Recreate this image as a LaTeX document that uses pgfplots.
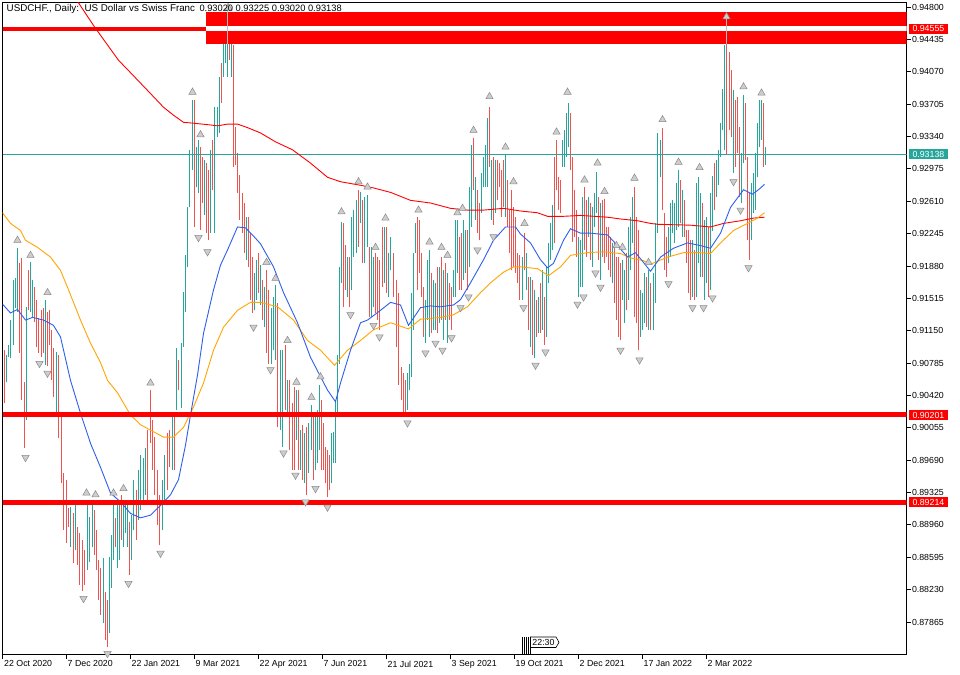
\documentclass[border=0pt]{standalone}
\usepackage{pgfplots}
\usepackage{pgfplotstable}
\pgfplotsset{compat=1.18}
\usepackage{fontspec}
\setmainfont{Liberation Sans}
\definecolor{upc}{RGB}{38,166,154}
\definecolor{dnc}{RGB}{239,83,80}
\definecolor{mablue}{RGB}{45,95,235}
\definecolor{maorange}{RGB}{255,165,0}
\definecolor{fracfill}{RGB}{205,205,205}
\definecolor{fracdraw}{RGB}{140,140,140}
\definecolor{peakgray}{RGB}{190,190,190}

\pgfplotstableread{
x lo hi d
4 0.9033 0.9093 0
6 0.9057 0.9088 1
8 0.9085 0.9099 1
10 0.9084 0.9127 1
13 0.9099 0.9172 1
15 0.9141 0.9174 1
17 0.9136 0.9208 1
19 0.9090 0.9191 0
21 0.9037 0.9197 0
24 0.8983 0.9057 0
26 0.9014 0.9142 1
28 0.9138 0.9183 0
30 0.9136 0.9192 1
32 0.9130 0.9172 1
34 0.9125 0.9164 0
36 0.9097 0.9150 0
38 0.9090 0.9129 0
41 0.9085 0.9138 0
43 0.9090 0.9141 0
45 0.9076 0.9150 1
47 0.9075 0.9136 0
49 0.9099 0.9138 0
51 0.9059 0.9116 0
53 0.9040 0.9096 0
56 0.9022 0.9091 1
58 0.8994 0.9088 0
61 0.8943 0.9022 0
63 0.8890 0.8955 0
66 0.8876 0.8947 0
68 0.8894 0.8915 0
70 0.8871 0.8916 1
73 0.8853 0.8910 0
75 0.8868 0.8918 1
77 0.8851 0.8894 0
79 0.8828 0.8887 0
82 0.8822 0.8879 0
84 0.8828 0.8868 0
87 0.8845 0.8924 1
89 0.8854 0.8905 1
92 0.8871 0.8921 1
94 0.8862 0.8913 0
96 0.8845 0.8890 0
98 0.8811 0.8856 0
100 0.8794 0.8848 0
103 0.8785 0.8859 1
105 0.8766 0.8820 0
107 0.8758 0.8811 0
109 0.8774 0.8860 1
111 0.8825 0.8885 1
113 0.8856 0.8924 1
115 0.8871 0.8904 0
117 0.8848 0.8921 1
119 0.8856 0.8924 1
121 0.8879 0.8930 0
123 0.8871 0.8924 1
125 0.8887 0.8918 1
127 0.8871 0.8924 1
129 0.8839 0.8899 0
131 0.8856 0.8907 1
133 0.8890 0.8947 1
136 0.8879 0.8935 0
138 0.8901 0.8958 1
140 0.8913 0.8975 1
143 0.8924 0.8972 1
145 0.8930 0.8983 1
147 0.8924 0.9003 0
150 0.8988 0.9048 0
152 0.8958 0.9014 0
154 0.8930 0.8995 0
157 0.8896 0.8958 0
159 0.8873 0.8930 0
162 0.8890 0.8947 1
164 0.8924 0.8975 1
167 0.8935 0.9000 0
169 0.8961 0.9003 0
172 0.8958 0.9023 1
174 0.8958 0.9023 0
176 0.9026 0.9096 1
178 0.9048 0.9082 0
181 0.9028 0.9101 1
183 0.9097 0.9159 1
185 0.9136 0.9200 1
187 0.9187 0.9254 1
189 0.9254 0.9319 1
192 0.9296 0.9375 1
194 0.9232 0.9375 0
196 0.9277 0.9322 1
198 0.9270 0.9330 1
200 0.9229 0.9322 0
202 0.9259 0.9311 0
204 0.9245 0.9308 1
206 0.9225 0.9304 0
208 0.9217 0.9296 0
210 0.9225 0.9319 1
212 0.9274 0.9330 0
214 0.9225 0.9367 1
217 0.9333 0.9367 1
219 0.9338 0.9401 1
221 0.9372 0.9417 0
223 0.9401 0.9441 1
225 0.9417 0.9454 1
227 0.9401 0.9473 1
229 0.9420 0.9465 0
231 0.9401 0.9443 1
233 0.9300 0.9437 0
235 0.9302 0.9345 0
237 0.9270 0.9315 0
239 0.9240 0.9291 0
242 0.9225 0.9270 0
244 0.9203 0.9259 0
246 0.9195 0.9243 1
248 0.9187 0.9243 0
250 0.9150 0.9225 0
252 0.9135 0.9198 0
254 0.9138 0.9180 1
256 0.9150 0.9195 1
258 0.9158 0.9203 0
260 0.9144 0.9189 1
262 0.9127 0.9172 0
264 0.9119 0.9164 1
266 0.9090 0.9183 0
268 0.9078 0.9161 0
271 0.9078 0.9141 1
273 0.9093 0.9153 1
275 0.9082 0.9166 1
277 0.9006 0.9146 0
280 0.9003 0.9093 1
282 0.8984 0.9093 1
285 0.9026 0.9099 0
287 0.9020 0.9059 1
289 0.8980 0.9059 0
292 0.8958 0.9033 0
294 0.8958 0.9051 0
296 0.8992 0.9048 1
298 0.8958 0.9048 0
300 0.8958 0.9003 1
302 0.8947 0.9009 0
304 0.8943 0.9000 1
306 0.8930 0.9006 0
308 0.8955 0.9011 1
311 0.8980 0.9031 1
313 0.8947 0.9022 0
315 0.8958 0.9020 1
317 0.8966 0.9026 1
319 0.8980 0.9054 1
321 0.8958 0.9037 0
323 0.8958 0.9011 0
325 0.8943 0.8984 0
327 0.8927 0.8980 0
329 0.8935 0.8975 0
331 0.8943 0.9000 1
333 0.8966 0.9001 1
335 0.8966 0.9037 1
337 0.9018 0.9088 1
339 0.9078 0.9187 1
341 0.9169 0.9238 1
343 0.9142 0.9236 0
345 0.9161 0.9212 0
347 0.9153 0.9198 1
349 0.9142 0.9198 0
351 0.9161 0.9243 1
353 0.9198 0.9251 1
356 0.9203 0.9262 1
358 0.9209 0.9274 0
360 0.9236 0.9271 1
362 0.9191 0.9262 0
364 0.9191 0.9266 1
367 0.9209 0.9268 1
369 0.9130 0.9209 0
371 0.9130 0.9209 1
373 0.9142 0.9198 1
375 0.9135 0.9203 0
377 0.9127 0.9198 0
379 0.9116 0.9195 0
382 0.9164 0.9232 0
384 0.9169 0.9232 1
386 0.9158 0.9232 0
388 0.9153 0.9203 1
390 0.9183 0.9221 1
393 0.9153 0.9203 0
396 0.9097 0.9172 0
398 0.9054 0.9158 0
401 0.9037 0.9074 0
403 0.9022 0.9067 0
405 0.9022 0.9059 0
407 0.9026 0.9067 1
409 0.9048 0.9078 1
411 0.9063 0.9158 1
413 0.9116 0.9203 1
415 0.9203 0.9236 1
417 0.9161 0.9243 0
419 0.9180 0.9240 0
421 0.9153 0.9203 0
423 0.9108 0.9164 0
425 0.9101 0.9150 1
427 0.9127 0.9195 1
429 0.9108 0.9206 1
431 0.9112 0.9180 0
433 0.9116 0.9172 1
435 0.9116 0.9169 1
437 0.9112 0.9187 0
439 0.9124 0.9187 1
441 0.9127 0.9198 0
443 0.9104 0.9183 1
445 0.9127 0.9191 0
447 0.9101 0.9180 1
449 0.9127 0.9169 0
451 0.9116 0.9164 0
453 0.9153 0.9183 1
455 0.9153 0.9240 1
457 0.9180 0.9240 1
459 0.9161 0.9221 0
461 0.9161 0.9225 0
463 0.9172 0.9240 1
465 0.9180 0.9229 1
467 0.9161 0.9229 0
469 0.9187 0.9277 1
471 0.9232 0.9324 1
473 0.9274 0.9332 0
475 0.9240 0.9288 1
477 0.9225 0.9274 0
479 0.9217 0.9259 0
481 0.9248 0.9293 1
483 0.9277 0.9311 1
485 0.9277 0.9324 1
487 0.9277 0.9355 1
489 0.9300 0.9367 0
491 0.9240 0.9308 1
493 0.9234 0.9311 0
495 0.9248 0.9308 1
497 0.9262 0.9308 0
499 0.9277 0.9304 0
501 0.9243 0.9296 0
503 0.9254 0.9308 0
505 0.9243 0.9313 1
507 0.9232 0.9285 0
509 0.9203 0.9251 0
511 0.9183 0.9274 0
513 0.9187 0.9254 0
515 0.9180 0.9243 0
517 0.9169 0.9203 0
519 0.9150 0.9200 0
522 0.9150 0.9198 1
524 0.9183 0.9225 0
526 0.9161 0.9203 1
528 0.9116 0.9176 0
530 0.9097 0.9176 1
532 0.9088 0.9172 0
534 0.9084 0.9161 1
536 0.9108 0.9150 0
538 0.9112 0.9153 1
540 0.9112 0.9169 0
542 0.9116 0.9183 1
544 0.9099 0.9153 0
546 0.9108 0.9187 1
548 0.9169 0.9214 1
550 0.9195 0.9236 1
552 0.9206 0.9257 1
554 0.9214 0.9311 0
556 0.9274 0.9330 0
558 0.9251 0.9288 0
560 0.9248 0.9285 0
562 0.9300 0.9330 1
564 0.9300 0.9341 1
566 0.9311 0.9361 1
568 0.9322 0.9372 1
570 0.9296 0.9361 0
572 0.9215 0.9311 0
574 0.9221 0.9274 0
576 0.9198 0.9251 0
578 0.9153 0.9221 1
580 0.9164 0.9217 1
582 0.9164 0.9266 1
584 0.9206 0.9277 0
586 0.9198 0.9262 0
588 0.9221 0.9266 1
590 0.9195 0.9259 0
592 0.9187 0.9254 1
594 0.9232 0.9270 1
596 0.9248 0.9294 1
598 0.9195 0.9266 0
600 0.9172 0.9259 1
602 0.9198 0.9262 0
604 0.9191 0.9264 0
606 0.9198 0.9232 0
608 0.9183 0.9232 0
610 0.9176 0.9221 0
612 0.9169 0.9214 1
614 0.9146 0.9214 0
616 0.9127 0.9198 0
618 0.9108 0.9198 0
620 0.9104 0.9191 0
622 0.9150 0.9195 1
624 0.9124 0.9183 1
626 0.9138 0.9203 0
628 0.9150 0.9232 1
630 0.9183 0.9243 1
632 0.9214 0.9266 1
634 0.9130 0.9277 0
636 0.9124 0.9243 0
638 0.9093 0.9229 0
640 0.9108 0.9161 1
642 0.9116 0.9158 1
644 0.9124 0.9180 1
646 0.9119 0.9176 0
648 0.9116 0.9183 1
650 0.9116 0.9169 0
653 0.9116 0.9180 1
655 0.9146 0.9236 1
657 0.9225 0.9338 1
660 0.9288 0.9330 1
662 0.9251 0.9344 0
664 0.9183 0.9248 0
666 0.9176 0.9221 0
668 0.9191 0.9232 1
670 0.9198 0.9259 1
672 0.9225 0.9262 1
674 0.9214 0.9259 1
676 0.9229 0.9282 1
678 0.9232 0.9296 1
680 0.9236 0.9285 0
682 0.9221 0.9274 1
684 0.9221 0.9262 0
686 0.9191 0.9229 0
688 0.9158 0.9229 0
690 0.9150 0.9217 0
692 0.9153 0.9217 1
694 0.9150 0.9206 0
696 0.9153 0.9282 1
698 0.9191 0.9288 1
700 0.9176 0.9270 1
702 0.9176 0.9259 0
704 0.9150 0.9240 1
706 0.9169 0.9243 1
708 0.9153 0.9232 0
710 0.9161 0.9270 1
712 0.9228 0.9290 1
714 0.9251 0.9304 0
716 0.9266 0.9308 1
718 0.9279 0.9319 1
720 0.9311 0.9349 1
722 0.9341 0.9387 1
724 0.9319 0.9437 1
726 0.9313 0.9463 0
729 0.9341 0.9429 0
731 0.9333 0.9409 0
733 0.9293 0.9386 1
735 0.9300 0.9375 0
737 0.9315 0.9379 0
739 0.9266 0.9345 0
741 0.9259 0.9315 1
743 0.9304 0.9381 1
745 0.9308 0.9372 0
747 0.9217 0.9311 0
749 0.9195 0.9270 0
751 0.9217 0.9282 1
753 0.9248 0.9293 1
755 0.9251 0.9315 1
757 0.9288 0.9349 1
759 0.9322 0.9375 1
761 0.9330 0.9375 1
763 0.9300 0.9372 0
765 0.93020 0.93225 1
}\bars

\pgfplotstableread{
x y
17 0.9217
30 0.9200
47 0.9158
86 0.8932
95 0.8930
113 0.8932
123 0.8937
150 0.9056
192 0.9384
200 0.9336
228 0.9479
266 0.9192
275 0.9174
287 0.9104
296 0.9057
311 0.9040
320 0.9063
341 0.9249
358 0.9283
367 0.9277
375 0.9209
385 0.9242
418 0.9251
429 0.9215
441 0.9209
447 0.9200
457 0.9248
462 0.9253
473 0.9341
489 0.9379
505 0.9322
513 0.9283
524 0.9236
556 0.9339
567 0.9384
584 0.9285
597 0.9304
604 0.9272
616 0.9211
622 0.9209
634 0.9287
648 0.9192
662 0.9353
678 0.9305
699 0.9299
726 0.9469
743 0.9390
761 0.9383
}\fup

\pgfplotstableread{
x y
25 0.8972
39 0.9078
47 0.9067
83 0.8813
107 0.8751
128 0.8830
160 0.8864
198 0.9220
207 0.9204
253 0.9119
270 0.9071
283 0.8977
295 0.8952
305 0.8922
315 0.8937
327 0.8916
350 0.9133
373 0.9121
379 0.9108
407 0.9011
425 0.9090
435 0.9101
442 0.9093
451 0.9107
460 0.9141
468 0.9153
477 0.9206
493 0.9221
523 0.9141
535 0.9076
545 0.9091
577 0.9145
583 0.9153
595 0.9180
600 0.9164
620 0.9093
639 0.9082
668 0.9168
692 0.9141
703 0.9141
712 0.9152
733 0.9283
740 0.9251
748 0.9186
}\fdn

\begin{document}
\begin{tikzpicture}
\fill[white] (0,0) rectangle (960bp,675bp);
\begin{axis}[
  at={(2.5bp,20.5bp)}, anchor=south west,
  scale only axis, width=904bp, height=652bp,
  xmin=2, xmax=906, ymin=0.87499, ymax=0.94851,
  clip mode=individual,
  axis line style={black, line width=0.9bp},
  tick align=outside,
  major tick length=4.5bp,
  every tick/.style={black, line width=0.9bp},
  xtick pos=left, ytick pos=right, yticklabel pos=right,
  xtick={2,65.5,129.5,193.5,257.5,321.5,385.5,449.5,513.5,577.5,641.5,705.5},
  xticklabels={22 Oct 2020,7 Dec 2020,22 Jan 2021,9 Mar 2021,22 Apr 2021,7 Jun 2021,21 Jul 2021,3 Sep 2021,19 Oct 2021,2 Dec 2021,17 Jan 2022,2 Mar 2022},
  ytick={0.87865,0.88230,0.88595,0.88960,0.89325,0.89690,0.90055,0.90420,0.90785,0.91150,0.91515,0.91880,0.92245,0.92610,0.92975,0.93340,0.93705,0.94070,0.94435,0.94800},
  yticklabels={0.87865,0.88230,0.88595,0.88960,0.89325,0.89690,0.90055,0.90420,0.90785,0.91150,0.91515,0.91880,0.92245,0.92610,0.92975,0.93340,0.93705,0.94070,0.94435,0.94800},
  ticklabel style={font=\fontsize{8.8bp}{10bp}\selectfont, text=black},
  xticklabel style={anchor=north west, inner xsep=1.5bp, inner ysep=1.5bp},
  yticklabel style={anchor=west, inner xsep=0.8bp},
]
% candles: low-high lines, teal for up days, salmon for down days
\addplot[draw=upc, line width=1.2bp, quiver={u=0, v=\thisrow{hi}-\thisrow{lo}, every arrow/.append style={draw=upc, line width=1.2bp}}, restrict expr to domain={\thisrow{d}}{0.5:1.5}] table[x=x, y=lo] {\bars};
\addplot[draw=dnc, line width=1.2bp, quiver={u=0, v=\thisrow{hi}-\thisrow{lo}, every arrow/.append style={draw=dnc, line width=1.2bp}}, restrict expr to domain={\thisrow{d}}{-0.5:0.5}] table[x=x, y=lo] {\bars};
% current price line
\addplot[upc, line width=0.7bp] coordinates {(2,0.93138) (906,0.93138)};
% moving averages
\addplot[red, line width=0.9bp] coordinates {(70,0.9499) (76,0.9488) (95,0.9456) (118,0.9420) (130,0.9406) (147,0.9386) (163,0.9367) (173,0.9358) (183,0.9350) (193,0.9349) (210,0.9347) (217,0.9346) (227,0.9348) (237,0.9348) (247,0.9344) (260,0.9338) (275,0.9328) (292,0.9319) (310,0.9304) (327,0.9288) (340,0.9283) (360,0.9279) (373,0.9276) (390,0.9271) (410,0.9262) (430,0.9259) (450,0.9253) (467,0.9251) (483,0.9251) (503,0.9253) (520,0.9250) (537,0.9248) (547,0.9244) (563,0.9244) (580,0.9245) (607,0.9243) (620,0.9241) (637,0.9239) (650,0.9236) (657,0.9235) (690,0.9234) (710,0.9232) (723,0.9236) (740,0.9239) (753,0.9242) (764,0.9243)};
\addplot[maorange, line width=0.9bp] coordinates {(2,0.9248) (10,0.9236) (20,0.9228) (25,0.9217) (37,0.9209) (50,0.9198) (60,0.9183) (67,0.9164) (80,0.9127) (90,0.9101) (100,0.9079) (107,0.9059) (117,0.9045) (130,0.9020) (140,0.9009) (163,0.8995) (173,0.8995) (183,0.9006) (193,0.9029) (203,0.9056) (213,0.9093) (223,0.9119) (237,0.9138) (250,0.9147) (260,0.9147) (277,0.9142) (293,0.9127) (307,0.9104) (320,0.9093) (334,0.9076) (347,0.9093) (360,0.9104) (373,0.9116) (390,0.9124) (408,0.9117) (420,0.9128) (440,0.9130) (453,0.9133) (467,0.9142) (480,0.9158) (490,0.9169) (503,0.9181) (513,0.9187) (520,0.9187) (537,0.9185) (548,0.9177) (560,0.9187) (570,0.9200) (587,0.9203) (603,0.9204) (620,0.9202) (630,0.9197) (643,0.9194) (650,0.9190) (667,0.9198) (683,0.9203) (700,0.9203) (710,0.9202) (720,0.9214) (733,0.9228) (747,0.9236) (757,0.9242) (764,0.9248)};
\addplot[mablue, line width=0.9bp] coordinates {(2,0.9145) (10,0.9135) (17,0.9139) (25,0.9127) (32,0.9130) (43,0.9127) (53,0.9121) (60,0.9108) (70,0.9059) (80,0.9022) (90,0.8988) (100,0.8961) (110,0.8932) (120,0.8922) (130,0.8909) (140,0.8904) (150,0.8907) (160,0.8918) (170,0.8930) (178,0.8947) (185,0.8986) (190,0.9020) (197,0.9065) (203,0.9112) (213,0.9161) (220,0.9189) (227,0.9206) (237,0.9232) (245,0.9231) (252,0.9223) (260,0.9213) (273,0.9187) (283,0.9158) (297,0.9124) (310,0.9085) (327,0.9048) (335,0.9035) (340,0.9056) (350,0.9093) (360,0.9124) (367,0.9127) (380,0.9138) (390,0.9147) (400,0.9144) (408,0.9121) (420,0.9141) (430,0.9143) (440,0.9142) (453,0.9144) (460,0.9150) (470,0.9169) (483,0.9195) (493,0.9217) (505,0.9232) (515,0.9232) (520,0.9224) (530,0.9214) (540,0.9195) (547,0.9186) (553,0.9191) (563,0.9217) (570,0.9230) (580,0.9225) (590,0.9225) (607,0.9223) (617,0.9211) (627,0.9198) (635,0.9203) (643,0.9192) (650,0.9182) (660,0.9198) (673,0.9208) (687,0.9214) (700,0.9211) (710,0.9208) (720,0.9225) (730,0.9254) (743,0.9274) (752,0.9269) (758,0.9274) (764,0.9280)};
% horizontal objects
\addplot[red, line width=5bp] coordinates {(2,0.90201) (906,0.90201)};
\addplot[red, line width=5bp] coordinates {(2,0.89214) (906,0.89214)};
\addplot[red, line width=4bp] coordinates {(2,0.94555) (205.5,0.94555)};
\addplot[fill=red, draw=none] coordinates {(205.5,0.94384) (906,0.94384) (906,0.94745) (205.5,0.94745)};
\addplot[white, line width=4.5bp] coordinates {(205.5,0.94555) (906,0.94555)};
\addplot[peakgray, line width=1bp] coordinates {(227,0.9485) (227,0.94384)};
\addplot[peakgray, line width=1bp] coordinates {(726,0.9468) (726,0.94384)};
% fractals
\addplot[only marks, mark=triangle*, mark size=4.2bp, mark options={fill=fracfill, draw=fracdraw, line width=0.5bp}] table[x=x, y=y] {\fup};
\addplot[only marks, mark=triangle*, mark size=4.2bp, mark options={fill=fracfill, draw=fracdraw, line width=0.5bp, rotate=180}] table[x=x, y=y] {\fdn};
% price labels
\tikzset{pl/.style={anchor=west, text=white, font=\fontsize{8.8bp}{10bp}\selectfont, inner xsep=3.3bp, inner ysep=1.8bp, text height=6.3bp, text depth=0bp, xshift=2.5bp}}
\node[pl, fill=red] at (axis cs:906,0.94555) {0.94555};
\node[pl, fill=upc] at (axis cs:906,0.93138) {0.93138};
\node[pl, fill=red] at (axis cs:906,0.90201) {0.90201};
\node[pl, fill=red] at (axis cs:906,0.89214) {0.89214};
\end{axis}
\begin{scope}[x=1bp, y=-1bp, shift={(0bp,675bp)}]
\node[anchor=base west, inner sep=0, font=\fontsize{9.8bp}{11bp}\selectfont] at (6.5,12) {USDCHF., Daily:\ \ US Dollar vs Swiss Franc};
\node[anchor=base west, inner sep=0, font=\fontsize{9.3bp}{11bp}\selectfont] at (199.3,12) {0.93020 0.93225 0.93020 0.93138};
\foreach \xx in {522.5,524.5,526.5,528.5,530.5} \draw[black, line width=0.5bp] (\xx,637) -- (\xx,654.5);
\draw[black, line width=0.6bp, fill=white] (530.5,637) -- (556,637) -- (559,642.3) -- (556,647.5) -- (530.5,647.5) -- cycle;
\node[font=\fontsize{8.8bp}{10bp}\selectfont, inner sep=0] at (543.5,642.3) {22:30};
\end{scope}
\pgfresetboundingbox
\path[use as bounding box] (0,0) rectangle (960bp,675bp);
\end{tikzpicture}
\end{document}
